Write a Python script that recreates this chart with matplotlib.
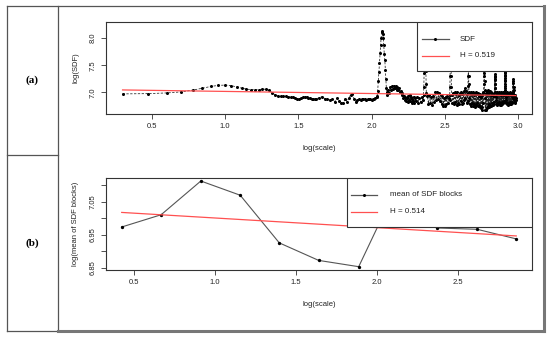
import numpy as np
import matplotlib
matplotlib.use('Agg')
import matplotlib.pyplot as plt
from matplotlib.patches import Rectangle
from matplotlib.lines import Line2D

plt.rcParams['font.family'] = ['Liberation Sans', 'DejaVu Sans']

# ------------------------------------------------------------
# data (a): SDF per scale
# ------------------------------------------------------------
scales_a = (list(range(2, 42)) + list(range(42, 110, 2)) + list(range(109, 128))
            + list(range(128, 201, 2)) + list(range(204, 225, 4)) + list(range(226, 237))
            + list(range(240, 341, 4)) + list(range(341, 352)) + list(range(356, 453, 4))
            + list(range(453, 463)) + list(range(466, 579, 4)) + list(range(579, 592))
            + list(range(596, 689, 4)) + list(range(689, 702)) + list(range(706, 803, 4))
            + list(range(806, 821)) + list(range(824, 917, 4)) + list(range(918, 942, 2))
            + list(range(944, 965, 4)))

sdf_a = [
    # 2..41
    6.970, 6.975, 6.988, 7.006, 7.040, 7.074, 7.108, 7.127, 7.133, 7.123,
    7.100, 7.075, 7.058, 7.050, 7.050, 7.050, 7.058, 7.055, 7.035, 6.990,
    6.950, 6.930, 6.925, 6.925, 6.925, 6.920, 6.915, 6.905, 6.890, 6.882,
    6.882, 6.890, 6.905, 6.910, 6.912, 6.900, 6.890, 6.878, 6.872, 6.870,
    # 42..108
    6.880, 6.900, 6.920, 6.880, 6.870, 6.857, 6.870, 6.827, 6.888, 6.845,
    6.810, 6.796, 6.880, 6.827, 6.900, 6.955, 6.969, 6.880, 6.827, 6.857,
    6.870, 6.857, 6.870, 6.880, 6.870, 6.857, 6.870, 6.880, 6.870, 6.857,
    6.870, 6.880, 6.895, 6.907,
    # 109..127 (big peak)
    6.93, 7.03, 7.20, 7.37, 7.55, 7.72, 7.88, 8.00, 8.11, 8.13,
    8.08, 8.00, 7.88, 7.70, 7.60, 7.42, 7.25, 7.08, 6.95,
    # 128..200
    7.00, 7.05, 6.98, 7.09, 7.04, 7.11, 7.06, 7.12, 7.07, 7.11,
    7.05, 7.10, 7.04, 7.08, 7.00, 7.03, 6.95, 6.98, 6.90, 6.94,
    6.86, 6.92, 6.83, 6.90, 6.82, 6.93, 6.85, 6.95, 6.84, 6.91,
    6.80, 6.88, 6.83, 6.92, 6.81, 6.90, 6.84,
    # 204..224
    6.91, 6.81, 6.90, 6.82, 6.92, 6.86,
    # 226..236
    6.95, 7.10, 7.35, 7.70, 8.00, 8.24, 8.10, 7.80, 7.40, 7.15, 6.98,
    # 240..340
    6.93, 6.79, 6.95, 6.80, 6.92, 6.77, 6.94, 6.82, 7.00, 6.86,
    7.01, 6.88, 6.99, 6.83, 6.95, 6.78, 6.93, 6.75, 6.90, 6.74,
    6.92, 6.78, 6.94, 6.80, 6.90, 6.86,
    # 341..351
    6.95, 7.10, 7.30, 7.55, 7.80, 7.95, 7.85, 7.55, 7.30, 7.10, 6.95,
    # 356..452
    6.80, 6.98, 6.78, 7.00, 6.82, 6.97, 6.77, 7.01, 6.80, 6.95,
    6.79, 6.99, 6.83, 7.00, 6.78, 6.96, 6.80, 7.02, 6.86, 7.07,
    6.90, 7.03, 6.80, 6.96, 6.84,
    # 453..462
    6.98, 7.12, 7.30, 7.45, 7.55, 7.45, 7.30, 7.15, 7.00, 6.90,
    # 466..578
    6.78, 6.99, 6.75, 7.00, 6.80, 6.97, 6.74, 7.01, 6.78, 6.95,
    6.73, 6.98, 6.77, 7.00, 6.80, 6.96, 6.74, 6.99, 6.77, 6.93,
    6.72, 6.97, 6.70, 6.92, 6.665, 6.95, 6.72, 7.00, 6.80,
    # 579..591
    6.98, 7.15, 7.30, 7.45, 7.60, 7.70, 7.75, 7.65, 7.50, 7.35, 7.20, 7.05, 6.90,
    # 596..688
    6.67, 6.98, 6.68, 7.02, 6.70, 6.96, 6.75, 7.04, 6.78, 6.99,
    6.72, 7.03, 6.77, 6.95, 6.74, 7.00, 6.80, 6.97, 6.76, 6.94,
    6.78, 6.99, 6.82, 6.93,
    # 689..701
    7.00, 7.08, 7.15, 7.22, 7.28, 7.33, 7.30, 7.24, 7.16, 7.08, 7.00, 6.92, 6.85,
    # 706..802
    6.79, 6.98, 6.77, 7.00, 6.80, 6.96, 6.78, 7.01, 6.82, 6.97,
    6.77, 6.99, 6.80, 6.95, 6.76, 7.00, 6.82, 6.97, 6.79, 6.98,
    6.80, 7.00, 6.84, 6.95, 6.82,
    # 806..820
    6.95, 7.05, 7.12, 7.20, 7.26, 7.32, 7.37, 7.35, 7.30, 7.22, 7.15, 7.08, 7.00, 6.92, 6.85,
    # 824..916
    6.80, 6.99, 6.78, 6.97, 6.80, 7.00, 6.79, 6.95, 6.77, 6.98,
    6.80, 6.96, 6.78, 7.00, 6.82, 6.97, 6.79, 6.95, 6.80, 6.98,
    6.82, 6.94, 6.80, 6.95,
    # 918..940
    7.00, 7.20, 6.95, 7.24, 6.90, 7.18, 6.85, 7.10, 6.90, 7.05, 6.82, 6.95,
    # 944..964
    6.82, 6.95, 6.80, 6.92, 6.85, 6.90,
]

intercept_a = 7.055
slope_a = -0.0391
label_h_a = 'H = 0.519'

# ------------------------------------------------------------
# data (b): mean of SDF blocks
# ------------------------------------------------------------
log_scale_b = [0.424, 0.667, 0.912, 1.155, 1.396, 1.639, 1.886, 2.130, 2.370, 2.617, 2.858]
mean_sdf_b = [6.973, 7.010, 7.112, 7.069, 6.925, 6.872, 6.853, 7.105, 6.970, 6.966, 6.937]

intercept_b = 7.0294
slope_b = -0.0292
label_h_b = 'H = 0.514'

panel_labels = ['(a)', '(b)']

W, H = 550, 337
FS = 5.5
RED = '#ff5050'
AXC = '#333333'


def style_axes(ax):
    for s in ax.spines.values():
        s.set_color(AXC)
        s.set_linewidth(0.8)
    ax.tick_params(length=3.6, width=0.6, colors=AXC, labelsize=FS, pad=3.2,
                   labelcolor='#222222')
    ax.tick_params(axis='y', labelrotation=90)
    for lbl in ax.get_yticklabels():
        lbl.set_va('center')


def box_legend(ax, x0, y0, rows, line_x, text_x):
    ax.add_patch(Rectangle((x0, y0), 1 - x0, 1 - y0, transform=ax.transAxes,
                           facecolor='white', edgecolor=AXC, lw=0.8, zorder=10))
    for y, kind, text in rows:
        if kind == 'dots':
            ax.plot(line_x, [y, y], transform=ax.transAxes, color='#555555', lw=0.9, zorder=11)
            ax.plot([sum(line_x) / 2], [y], transform=ax.transAxes, marker='o', ms=2.2,
                    mfc='black', mec='black', mew=0, zorder=12)
        else:
            ax.plot(line_x, [y, y], transform=ax.transAxes, color=RED, lw=0.9, zorder=11)
        ax.text(text_x, y, text, transform=ax.transAxes, fontsize=5.8, va='center',
                ha='left', color='#222222', zorder=12)


fig = plt.figure(figsize=(W / 100, H / 100), dpi=100)

# ------------------------------------------------------------
# panel (a)
# ------------------------------------------------------------
ax1 = fig.add_axes([106 / W, 1 - 114 / H, 426 / W, 92 / H])
x_a = np.log10(scales_a)
ax1.plot(x_a, sdf_a, color='#222222', lw=0.55, ls=(0, (3, 2)),
         marker='o', ms=2.2, mfc='black', mec='black', mew=0, zorder=3)
fx = np.array([x_a.min(), x_a.max()])
ax1.plot(fx, intercept_a + slope_a * fx, color=RED, lw=0.9, zorder=4)
ax1.set_xlim(0.188, 3.094)
ax1.set_ylim(6.598, 8.30)
ax1.set_xticks([0.5, 1.0, 1.5, 2.0, 2.5, 3.0])
ax1.set_yticks([7.0, 7.5, 8.0])
style_axes(ax1)
ax1.set_xlabel('log(scale)', fontsize=FS, color='#222222')
ax1.set_ylabel('log(SDF)', fontsize=FS, color='#222222')
ax1.xaxis.set_label_coords(0.5, -34 / 92)
ax1.xaxis.label.set_va('center')
ax1.yaxis.set_label_coords(-30.3 / 426, 0.5)
ax1.yaxis.label.set_va('center')
box_legend(ax1, 0.729, 0.467,
           [(0.812, 'dots', 'SDF'), (0.634, 'red', label_h_a)],
           [0.741, 0.804], 0.831)

# ------------------------------------------------------------
# panel (b)
# ------------------------------------------------------------
ax2 = fig.add_axes([106 / W, 1 - 270 / H, 426 / W, 92.3 / H])
ax2.plot(log_scale_b, mean_sdf_b, color='#555555', lw=0.8,
         marker='o', ms=2.4, mfc='black', mec='black', mew=0, zorder=3)
fx = np.array([min(log_scale_b), max(log_scale_b)])
ax2.plot(fx, intercept_b + slope_b * fx, color=RED, lw=0.9, zorder=4)
ax2.set_xlim(0.327, 2.955)
ax2.set_ylim(6.843, 7.122)
ax2.set_xticks([0.5, 1.0, 1.5, 2.0, 2.5])
ax2.set_yticks([6.85, 6.90, 6.95, 7.00, 7.05, 7.10])
ax2.set_yticklabels(['6.85', '', '6.95', '', '7.05', ''])
style_axes(ax2)
ax2.set_xlabel('log(scale)', fontsize=FS, color='#222222')
ax2.set_ylabel('log(mean of SDF blocks)', fontsize=FS, color='#222222')
ax2.xaxis.set_label_coords(0.5, -34 / 92.3)
ax2.xaxis.label.set_va('center')
ax2.yaxis.set_label_coords(-30.3 / 426, 0.5)
ax2.yaxis.label.set_va('center')
box_legend(ax2, 0.565, 0.463,
           [(0.813, 'dots', 'mean of SDF blocks'), (0.632, 'red', label_h_b)],
           [0.574, 0.635], 0.667)

# ------------------------------------------------------------
# table frame and panel labels
# ------------------------------------------------------------
L, C, R = 7 / W, 57.7 / W, 543.5 / W
T, M, B = 1 - 5.5 / H, 1 - 155 / H, 1 - 330.5 / H
thin = dict(transform=fig.transFigure, color='#555555', lw=0.9)
thick = dict(transform=fig.transFigure, color='#777777', lw=2.2)
fig.add_artist(Line2D([L, R], [T, T], **thin))
fig.add_artist(Line2D([L, L], [B, T], **thin))
fig.add_artist(Line2D([C, C], [B, T], **thin))
fig.add_artist(Line2D([L, C], [M, M], **thin))
fig.add_artist(Line2D([L, C], [B, B], **thin))
fig.add_artist(Line2D([C, R], [B, B], **thick))
fig.add_artist(Line2D([R, R], [B, T], **thick))

for lab, yc in zip(panel_labels, [(T + M) / 2, (M + B) / 2]):
    fig.text((L + C) / 2, yc, lab, ha='center', va='center', fontsize=8,
             fontweight='bold', family=['Liberation Serif', 'DejaVu Serif'])

fig.savefig('out.png', dpi=100)
print('saved out.png')
